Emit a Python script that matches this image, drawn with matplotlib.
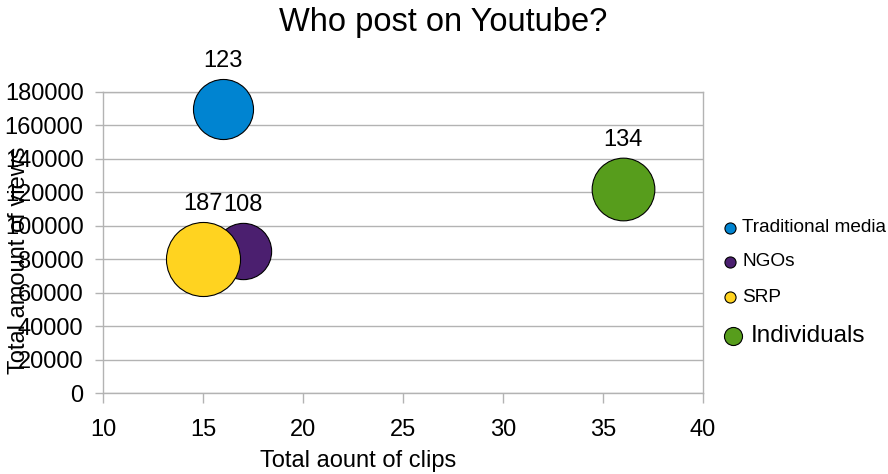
import matplotlib
matplotlib.use("Agg")
import matplotlib.pyplot as plt
from matplotlib.lines import Line2D
import numpy as np

plt.rcParams['font.family'] = ['Liberation Sans', 'DejaVu Sans']

series = ["Traditional media", "NGOs", "SRP", "Individuals"]
clips = [16, 17, 15, 36]
views = [170000, 85000, 80000, 122000]
sizes = [123, 108, 187, 134]
colors = ["#0084d1", "#4b1f6f", "#ffd320", "#579d1c"]

xticks = [10, 15, 20, 25, 30, 35, 40]
yticks = [0, 20000, 40000, 60000, 80000, 100000, 120000, 140000, 160000, 180000]

fig = plt.figure(figsize=(8.88, 4.74), dpi=100)
ax = fig.add_axes([103/888, 1-393/474, 600/888, 301/474])

scale = 15.2  # area (pt^2) per unit of size
for x, y, s, c in zip(clips, views, sizes, colors):
    ax.scatter([x], [y], s=s*scale, color=c, edgecolor='black', linewidth=0.8, zorder=3, clip_on=False)
for x, y, s in zip(clips, views, sizes):
    r = np.sqrt(s*scale)/2
    ax.annotate(str(s), (x, y), xytext=(0, r+5), textcoords='offset points',
                ha='center', va='bottom', fontsize=17, zorder=4)

ax.set_xlim(10, 40)
ax.set_ylim(0, 180000)
ax.set_xticks(xticks)
ax.set_yticks(yticks)
ax.set_xticklabels([str(t) for t in xticks], fontsize=17)
ax.set_yticklabels([str(t) for t in yticks], fontsize=17)
ax.yaxis.grid(True, color='#b3b3b3', linewidth=1)
ax.set_axisbelow(True)
for sp in ax.spines.values():
    sp.set_color('#b3b3b3')
    sp.set_linewidth(1)
ax.tick_params(axis='x', direction='out', length=7, color='#b3b3b3', width=1, pad=12)
ax.tick_params(axis='y', direction='out', length=6, color='#b3b3b3', width=1, pad=8)

ax.set_xlabel("Total aount of clips", fontsize=17)
ax.xaxis.set_label_coords(0.425, -0.19)
ax.set_ylabel("Total amount of views", fontsize=17)
ax.yaxis.set_label_coords(-0.122, 0.44)
fig.suptitle("Who post on Youtube?", fontsize=23.5, x=443/888, y=1-7/474, va='top')

# legend
leg_y = [228, 262, 297, 336]
leg_x = [730, 730, 730, 733]
leg_ms = [8, 8, 8, 13]
leg_tx = [742, 742, 742, 751]
leg_fs = [13.7, 13.7, 13.7, 17.5]
for name, c, ly, lx, ms, tx, fs in zip(series, colors, leg_y, leg_x, leg_ms, leg_tx, leg_fs):
    fig.add_artist(Line2D([lx/888], [1-ly/474], marker='o', markersize=ms, color=c,
                          markeredgecolor='black', markeredgewidth=0.8, linestyle='none',
                          transform=fig.transFigure))
    fig.text(tx/888, 1-ly/474, name, fontsize=fs, va='center', ha='left')

fig.savefig("out.png", dpi=100)
